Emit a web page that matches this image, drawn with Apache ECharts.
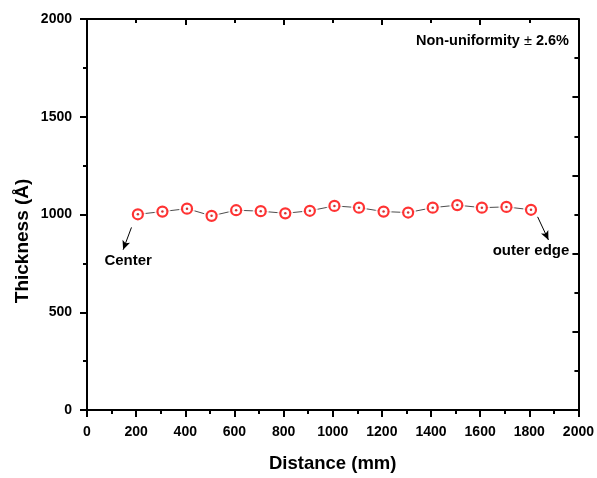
<!DOCTYPE html>
<html>
<head>
<meta charset="utf-8">
<script src="https://cdn.jsdelivr.net/npm/echarts@6/dist/echarts.min.js"></script>
<style>
  html, body { margin: 0; padding: 0; background: #fff; }
  #chart { width: 597px; height: 478px; }
</style>
</head>
<body>
<div id="chart"></div>
<script>
// Film thickness measured across the substrate, from centre to outer edge
const distance = [207, 307, 407, 507, 607, 707, 807, 907, 1007, 1107, 1207, 1307, 1407, 1507, 1607, 1707, 1807];
const thickness = [1001, 1015, 1030, 993, 1022, 1017, 1006, 1019, 1044, 1035, 1015, 1010, 1035, 1048, 1035, 1039, 1024];

const xTicks = { min: 0, max: 2000, interval: 200 };
const yTicks = { min: 0, max: 2000, interval: 500 };

const points = distance.map((d, i) => [d, thickness[i]]);

const FONT = 'Liberation Sans, Arial, sans-serif';
const INK = '#000';
const AXIS_W = 2;
const plain = v => String(v);

const chart = echarts.init(document.getElementById('chart'));

const frameLine = { show: true, onZero: false, lineStyle: { color: INK, width: AXIS_W } };

chart.setOption({
  backgroundColor: '#fff',
  animation: false,
  grid: { left: 87, right: 17, top: 19, bottom: 62, containLabel: false },
  xAxis: [
    {
      type: 'value', position: 'bottom',
      min: xTicks.min, max: xTicks.max, interval: xTicks.interval,
      name: 'Distance (mm)', nameLocation: 'middle', nameGap: 44,
      nameTextStyle: { fontFamily: FONT, fontWeight: 'bold', fontSize: 18.5, color: INK },
      axisLine: frameLine,
      axisTick: { show: true, inside: false, length: 7, lineStyle: { color: INK, width: AXIS_W } },
      minorTick: { show: true, splitNumber: 2, length: 4, lineStyle: { color: INK, width: AXIS_W } },
      axisLabel: { fontFamily: FONT, fontWeight: 'bold', fontSize: 14, color: INK, margin: 15, formatter: plain },
      splitLine: { show: false }
    },
    {
      type: 'value', position: 'top',
      min: xTicks.min, max: xTicks.max, interval: 400,
      axisLine: frameLine,
      axisTick: { show: true, inside: true, length: 6, lineStyle: { color: INK, width: AXIS_W } },
      minorTick: { show: true, splitNumber: 2, length: 4, lineStyle: { color: INK, width: AXIS_W } },
      axisLabel: { show: false },
      splitLine: { show: false }
    }
  ],
  yAxis: [
    {
      type: 'value', position: 'left',
      min: yTicks.min, max: yTicks.max, interval: yTicks.interval,
      axisLine: frameLine,
      axisTick: { show: true, inside: false, length: 7, lineStyle: { color: INK, width: AXIS_W } },
      minorTick: { show: true, splitNumber: 2, length: 4, lineStyle: { color: INK, width: AXIS_W } },
      axisLabel: { fontFamily: FONT, fontWeight: 'bold', fontSize: 14, color: INK, margin: 15, formatter: plain },
      splitLine: { show: false }
    },
    {
      type: 'value', position: 'right',
      min: yTicks.min, max: yTicks.max, interval: 400,
      axisLine: frameLine,
      axisTick: { show: true, inside: true, length: 6, lineStyle: { color: INK, width: AXIS_W } },
      minorTick: { show: true, splitNumber: 2, length: 4, lineStyle: { color: INK, width: AXIS_W } },
      axisLabel: { show: false },
      splitLine: { show: false }
    }
  ],
  series: [
    {
      // connecting line
      type: 'line', data: points, xAxisIndex: 0, yAxisIndex: 0,
      showSymbol: false, symbol: 'none',
      lineStyle: { color: '#4d4d4d', width: 1 },
      z: 2,
      markLine: {
        silent: true,
        symbol: ['none', 'arrow'], symbolSize: [6, 9],
        label: { show: false },
        lineStyle: { color: INK, width: 1, type: 'solid' },
        data: [
          [{ coord: [181, 934] }, { coord: [147, 820] }],
          [{ coord: [1834, 988] }, { coord: [1878, 870] }]
        ]
      }
    },
    {
      // white halo so the line stops short of each marker
      type: 'scatter', data: points, symbol: 'circle', symbolSize: 16,
      itemStyle: { color: '#fff' }, z: 3, silent: true
    },
    {
      // open red circles
      type: 'scatter', data: points, symbol: 'circle', symbolSize: 10,
      itemStyle: { color: '#fff', borderColor: '#ff0000', borderWidth: 2.2 }, z: 4, silent: true
    },
    {
      // centre dot of each marker
      type: 'scatter', data: points, symbol: 'circle', symbolSize: 2.5,
      itemStyle: { color: '#cc0000' }, z: 5, silent: true
    }
  ]
});

// Text annotations placed in data space
const at = (x, y) => chart.convertToPixel({ xAxisIndex: 0, yAxisIndex: 0 }, [x, y]);
const centerPos = at(71, 763);
const edgePos = at(1651, 815);
const yTitlePos = at(-263, 865);

chart.setOption({
  graphic: [
    {
      type: 'text', x: yTitlePos[0], y: yTitlePos[1], rotation: Math.PI / 2,
      style: {
        text: 'Thickness (Å)', fontFamily: FONT, fontWeight: 'bold', fontSize: 19, fill: INK,
        textAlign: 'center', textVerticalAlign: 'middle'
      }
    },
    {
      type: 'text', right: 28, top: 33,
      style: {
        text: '{b|Non-uniformity }{n|±}{b| 2.6%}',
        rich: {
          b: { fontFamily: FONT, fontWeight: 'bold', fontSize: 14.5, fill: INK },
          n: { fontFamily: FONT, fontWeight: 'normal', fontSize: 14.5, fill: INK }
        }
      }
    },
    {
      type: 'text', x: centerPos[0], y: centerPos[1],
      style: {
        text: 'Center', fontFamily: FONT, fontWeight: 'bold', fontSize: 15, fill: INK,
        textAlign: 'left', textVerticalAlign: 'middle'
      }
    },
    {
      type: 'text', x: edgePos[0], y: edgePos[1],
      style: {
        text: 'outer edge', fontFamily: FONT, fontWeight: 'bold', fontSize: 15, fill: INK,
        textAlign: 'left', textVerticalAlign: 'middle'
      }
    }
  ]
});
</script>
</body>
</html>
